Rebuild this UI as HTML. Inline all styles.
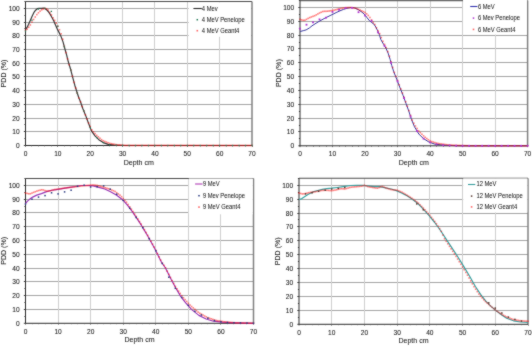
<!DOCTYPE html>
<html><head><meta charset="utf-8"><style>
html,body{margin:0;padding:0;background:#fff;}
body{width:532px;height:346px;overflow:hidden;}
svg{display:block;font-family:"Liberation Sans", sans-serif;}
</style></head><body>
<svg width="532" height="346" viewBox="0 0 532 346">
<defs><filter id="bl" x="0" y="0" width="532" height="346" filterUnits="userSpaceOnUse" color-interpolation-filters="sRGB"><feConvolveMatrix order="3" kernelMatrix="1 2 1 2 20 2 1 2 1" divisor="32" edgeMode="duplicate"/></filter></defs>
<g filter="url(#bl)">
<rect width="532" height="346" fill="#fff"/>
<g stroke="#a4a4a4" stroke-width="1"><line x1="25.50" y1="131.50" x2="252.00" y2="131.50"/><line x1="25.50" y1="118.50" x2="252.00" y2="118.50"/><line x1="25.50" y1="104.50" x2="252.00" y2="104.50"/><line x1="25.50" y1="90.50" x2="252.00" y2="90.50"/><line x1="25.50" y1="76.50" x2="252.00" y2="76.50"/><line x1="25.50" y1="63.50" x2="252.00" y2="63.50"/><line x1="25.50" y1="49.50" x2="252.00" y2="49.50"/><line x1="25.50" y1="35.50" x2="252.00" y2="35.50"/><line x1="25.50" y1="22.50" x2="252.00" y2="22.50"/><line x1="25.50" y1="8.50" x2="252.00" y2="8.50"/></g>
<g stroke="#cfcfcf" stroke-width="1"><line x1="57.50" y1="1.44" x2="57.50" y2="145.50"/><line x1="90.50" y1="1.44" x2="90.50" y2="145.50"/><line x1="122.50" y1="1.44" x2="122.50" y2="145.50"/><line x1="154.50" y1="1.44" x2="154.50" y2="145.50"/><line x1="187.50" y1="1.44" x2="187.50" y2="145.50"/><line x1="219.50" y1="1.44" x2="219.50" y2="145.50"/></g>
<line x1="25.50" y1="1.44" x2="252.00" y2="1.44" stroke="#4a4a4a" stroke-width="1.1"/>
<line x1="252.00" y1="1.44" x2="252.00" y2="145.50" stroke="#808080" stroke-width="1.5"/>
<line x1="25.50" y1="1.44" x2="25.50" y2="146.00" stroke="#2a2a2a" stroke-width="1.0"/>
<line x1="25.00" y1="145.50" x2="252.00" y2="145.50" stroke="#2a2a2a" stroke-width="1.0"/>
<g stroke="#333" stroke-width="0.9"><line x1="23.80" y1="145.50" x2="25.50" y2="145.50"/><line x1="24.40" y1="138.50" x2="25.50" y2="138.50"/><line x1="23.80" y1="131.50" x2="25.50" y2="131.50"/><line x1="24.40" y1="124.50" x2="25.50" y2="124.50"/><line x1="23.80" y1="118.50" x2="25.50" y2="118.50"/><line x1="24.40" y1="111.50" x2="25.50" y2="111.50"/><line x1="23.80" y1="104.50" x2="25.50" y2="104.50"/><line x1="24.40" y1="97.50" x2="25.50" y2="97.50"/><line x1="23.80" y1="90.50" x2="25.50" y2="90.50"/><line x1="24.40" y1="83.50" x2="25.50" y2="83.50"/><line x1="23.80" y1="76.50" x2="25.50" y2="76.50"/><line x1="24.40" y1="70.50" x2="25.50" y2="70.50"/><line x1="23.80" y1="63.50" x2="25.50" y2="63.50"/><line x1="24.40" y1="56.50" x2="25.50" y2="56.50"/><line x1="23.80" y1="49.50" x2="25.50" y2="49.50"/><line x1="24.40" y1="42.50" x2="25.50" y2="42.50"/><line x1="23.80" y1="35.50" x2="25.50" y2="35.50"/><line x1="24.40" y1="28.50" x2="25.50" y2="28.50"/><line x1="23.80" y1="22.50" x2="25.50" y2="22.50"/><line x1="24.40" y1="15.50" x2="25.50" y2="15.50"/><line x1="23.80" y1="8.50" x2="25.50" y2="8.50"/><line x1="24.40" y1="1.50" x2="25.50" y2="1.50"/></g>
<g stroke="#555" stroke-width="0.8"><line x1="25.50" y1="145.50" x2="25.50" y2="146.86"/><line x1="31.50" y1="145.50" x2="31.50" y2="146.38"/><line x1="38.50" y1="145.50" x2="38.50" y2="146.38"/><line x1="44.50" y1="145.50" x2="44.50" y2="146.38"/><line x1="51.50" y1="145.50" x2="51.50" y2="146.38"/><line x1="57.50" y1="145.50" x2="57.50" y2="146.86"/><line x1="64.50" y1="145.50" x2="64.50" y2="146.38"/><line x1="70.50" y1="145.50" x2="70.50" y2="146.38"/><line x1="77.50" y1="145.50" x2="77.50" y2="146.38"/><line x1="83.50" y1="145.50" x2="83.50" y2="146.38"/><line x1="90.50" y1="145.50" x2="90.50" y2="146.86"/><line x1="96.50" y1="145.50" x2="96.50" y2="146.38"/><line x1="103.50" y1="145.50" x2="103.50" y2="146.38"/><line x1="109.50" y1="145.50" x2="109.50" y2="146.38"/><line x1="116.50" y1="145.50" x2="116.50" y2="146.38"/><line x1="122.50" y1="145.50" x2="122.50" y2="146.86"/><line x1="129.50" y1="145.50" x2="129.50" y2="146.38"/><line x1="135.50" y1="145.50" x2="135.50" y2="146.38"/><line x1="141.50" y1="145.50" x2="141.50" y2="146.38"/><line x1="148.50" y1="145.50" x2="148.50" y2="146.38"/><line x1="154.50" y1="145.50" x2="154.50" y2="146.86"/><line x1="161.50" y1="145.50" x2="161.50" y2="146.38"/><line x1="167.50" y1="145.50" x2="167.50" y2="146.38"/><line x1="174.50" y1="145.50" x2="174.50" y2="146.38"/><line x1="180.50" y1="145.50" x2="180.50" y2="146.38"/><line x1="187.50" y1="145.50" x2="187.50" y2="146.86"/><line x1="193.50" y1="145.50" x2="193.50" y2="146.38"/><line x1="200.50" y1="145.50" x2="200.50" y2="146.38"/><line x1="206.50" y1="145.50" x2="206.50" y2="146.38"/><line x1="213.50" y1="145.50" x2="213.50" y2="146.38"/><line x1="219.50" y1="145.50" x2="219.50" y2="146.86"/><line x1="226.50" y1="145.50" x2="226.50" y2="146.38"/><line x1="232.50" y1="145.50" x2="232.50" y2="146.38"/><line x1="239.50" y1="145.50" x2="239.50" y2="146.38"/><line x1="245.50" y1="145.50" x2="245.50" y2="146.38"/><line x1="252.50" y1="145.50" x2="252.50" y2="146.86"/></g>
<polyline points="25.40,29.50 26.90,27.70 28.60,24.30 30.40,20.20 32.10,16.20 33.80,12.70 35.60,10.20 37.30,8.70 39.00,8.30 41.30,8.30 43.50,8.20 45.20,8.70 46.90,10.00 48.70,12.10 50.40,14.70 52.10,17.80 53.90,21.20 55.60,25.20 57.30,29.10 59.30,32.90 61.00,36.40 63.10,42.10 64.80,48.50 66.60,54.90 68.30,61.80 70.60,69.30 73.10,78.90 74.80,85.20 76.60,91.00 78.90,98.00 80.10,100.70 82.90,108.70 85.80,115.90 88.70,123.80 91.60,131.10 95.20,136.10 98.80,139.70 103.20,142.60 108.20,144.40 114.00,145.10 125.00,145.50 252.00,145.50" fill="none" stroke="#3a3a3a" stroke-width="1.2" stroke-linejoin="round"/>
<g fill="#ff0000" fill-opacity="0.5"><rect x="24.70" y="29.43" width="1.6" height="1.6"/><rect x="26.32" y="28.35" width="1.6" height="1.6"/><rect x="27.94" y="26.40" width="1.6" height="1.6"/><rect x="29.55" y="24.16" width="1.6" height="1.6"/><rect x="31.17" y="21.30" width="1.6" height="1.6"/><rect x="32.79" y="18.65" width="1.6" height="1.6"/><rect x="34.41" y="16.19" width="1.6" height="1.6"/><rect x="36.03" y="13.80" width="1.6" height="1.6"/><rect x="37.64" y="11.96" width="1.6" height="1.6"/><rect x="39.26" y="10.34" width="1.6" height="1.6"/><rect x="40.88" y="9.02" width="1.6" height="1.6"/><rect x="42.50" y="8.20" width="1.6" height="1.6"/><rect x="44.11" y="7.60" width="1.6" height="1.6"/><rect x="45.73" y="7.98" width="1.6" height="1.6"/><rect x="47.35" y="9.28" width="1.6" height="1.6"/><rect x="48.97" y="11.63" width="1.6" height="1.6"/><rect x="50.59" y="14.11" width="1.6" height="1.6"/><rect x="52.20" y="17.01" width="1.6" height="1.6"/><rect x="53.82" y="19.56" width="1.6" height="1.6"/><rect x="55.44" y="22.30" width="1.6" height="1.6"/><rect x="57.06" y="25.47" width="1.6" height="1.6"/><rect x="58.68" y="28.94" width="1.6" height="1.6"/><rect x="60.29" y="33.00" width="1.6" height="1.6"/><rect x="61.91" y="38.46" width="1.6" height="1.6"/><rect x="63.53" y="45.61" width="1.6" height="1.6"/><rect x="65.15" y="51.78" width="1.6" height="1.6"/><rect x="66.76" y="58.01" width="1.6" height="1.6"/><rect x="68.38" y="63.88" width="1.6" height="1.6"/><rect x="70.00" y="69.27" width="1.6" height="1.6"/><rect x="71.62" y="75.48" width="1.6" height="1.6"/><rect x="73.24" y="81.57" width="1.6" height="1.6"/><rect x="74.85" y="87.15" width="1.6" height="1.6"/><rect x="76.47" y="92.24" width="1.6" height="1.6"/><rect x="78.09" y="97.17" width="1.6" height="1.6"/><rect x="79.71" y="101.06" width="1.6" height="1.6"/><rect x="81.33" y="105.69" width="1.6" height="1.6"/><rect x="82.94" y="109.99" width="1.6" height="1.6"/><rect x="84.56" y="114.01" width="1.6" height="1.6"/><rect x="86.18" y="118.11" width="1.6" height="1.6"/><rect x="87.80" y="122.24" width="1.6" height="1.6"/><rect x="89.41" y="125.71" width="1.6" height="1.6"/><rect x="91.03" y="129.14" width="1.6" height="1.6"/><rect x="92.65" y="131.07" width="1.6" height="1.6"/><rect x="94.27" y="132.83" width="1.6" height="1.6"/><rect x="95.89" y="134.58" width="1.6" height="1.6"/><rect x="97.50" y="136.01" width="1.6" height="1.6"/><rect x="99.12" y="137.43" width="1.6" height="1.6"/><rect x="100.74" y="138.86" width="1.6" height="1.6"/><rect x="102.36" y="139.96" width="1.6" height="1.6"/><rect x="103.98" y="140.62" width="1.6" height="1.6"/><rect x="105.59" y="141.27" width="1.6" height="1.6"/><rect x="107.21" y="141.92" width="1.6" height="1.6"/><rect x="108.83" y="142.57" width="1.6" height="1.6"/><rect x="110.45" y="142.90" width="1.6" height="1.6"/><rect x="112.06" y="143.22" width="1.6" height="1.6"/><rect x="113.68" y="143.53" width="1.6" height="1.6"/><rect x="115.30" y="143.84" width="1.6" height="1.6"/><rect x="116.92" y="144.06" width="1.6" height="1.6"/><rect x="118.54" y="144.18" width="1.6" height="1.6"/><rect x="120.15" y="144.30" width="1.6" height="1.6"/><rect x="121.77" y="144.42" width="1.6" height="1.6"/><rect x="123.39" y="144.54" width="1.6" height="1.6"/><rect x="125.01" y="144.60" width="1.6" height="1.6"/><rect x="126.62" y="144.60" width="1.6" height="1.6"/><rect x="128.24" y="144.60" width="1.6" height="1.6"/><rect x="129.86" y="144.60" width="1.6" height="1.6"/><rect x="131.48" y="144.61" width="1.6" height="1.6"/><rect x="133.10" y="144.61" width="1.6" height="1.6"/><rect x="134.71" y="144.61" width="1.6" height="1.6"/><rect x="136.33" y="144.61" width="1.6" height="1.6"/><rect x="137.95" y="144.61" width="1.6" height="1.6"/><rect x="139.57" y="144.61" width="1.6" height="1.6"/><rect x="141.19" y="144.61" width="1.6" height="1.6"/><rect x="142.80" y="144.61" width="1.6" height="1.6"/><rect x="144.42" y="144.62" width="1.6" height="1.6"/><rect x="146.04" y="144.62" width="1.6" height="1.6"/><rect x="147.66" y="144.62" width="1.6" height="1.6"/><rect x="149.27" y="144.62" width="1.6" height="1.6"/><rect x="150.89" y="144.62" width="1.6" height="1.6"/><rect x="152.51" y="144.62" width="1.6" height="1.6"/><rect x="154.13" y="144.62" width="1.6" height="1.6"/><rect x="155.75" y="144.62" width="1.6" height="1.6"/><rect x="157.36" y="144.63" width="1.6" height="1.6"/><rect x="158.98" y="144.63" width="1.6" height="1.6"/><rect x="160.60" y="144.63" width="1.6" height="1.6"/><rect x="162.22" y="144.63" width="1.6" height="1.6"/><rect x="163.84" y="144.63" width="1.6" height="1.6"/><rect x="165.45" y="144.63" width="1.6" height="1.6"/><rect x="167.07" y="144.63" width="1.6" height="1.6"/><rect x="168.69" y="144.64" width="1.6" height="1.6"/><rect x="170.31" y="144.64" width="1.6" height="1.6"/><rect x="171.92" y="144.64" width="1.6" height="1.6"/><rect x="173.54" y="144.64" width="1.6" height="1.6"/><rect x="175.16" y="144.64" width="1.6" height="1.6"/><rect x="176.78" y="144.64" width="1.6" height="1.6"/><rect x="178.40" y="144.64" width="1.6" height="1.6"/><rect x="180.01" y="144.64" width="1.6" height="1.6"/><rect x="181.63" y="144.65" width="1.6" height="1.6"/><rect x="183.25" y="144.65" width="1.6" height="1.6"/><rect x="184.87" y="144.65" width="1.6" height="1.6"/><rect x="186.49" y="144.65" width="1.6" height="1.6"/><rect x="188.10" y="144.65" width="1.6" height="1.6"/><rect x="189.72" y="144.65" width="1.6" height="1.6"/><rect x="191.34" y="144.65" width="1.6" height="1.6"/><rect x="192.96" y="144.65" width="1.6" height="1.6"/><rect x="194.57" y="144.66" width="1.6" height="1.6"/><rect x="196.19" y="144.66" width="1.6" height="1.6"/><rect x="197.81" y="144.66" width="1.6" height="1.6"/><rect x="199.43" y="144.66" width="1.6" height="1.6"/><rect x="201.05" y="144.66" width="1.6" height="1.6"/><rect x="202.66" y="144.66" width="1.6" height="1.6"/><rect x="204.28" y="144.66" width="1.6" height="1.6"/><rect x="205.90" y="144.66" width="1.6" height="1.6"/><rect x="207.52" y="144.67" width="1.6" height="1.6"/><rect x="209.14" y="144.67" width="1.6" height="1.6"/><rect x="210.75" y="144.67" width="1.6" height="1.6"/><rect x="212.37" y="144.67" width="1.6" height="1.6"/><rect x="213.99" y="144.67" width="1.6" height="1.6"/><rect x="215.61" y="144.67" width="1.6" height="1.6"/><rect x="217.22" y="144.67" width="1.6" height="1.6"/><rect x="218.84" y="144.67" width="1.6" height="1.6"/><rect x="220.46" y="144.68" width="1.6" height="1.6"/><rect x="222.08" y="144.68" width="1.6" height="1.6"/><rect x="223.70" y="144.68" width="1.6" height="1.6"/><rect x="225.31" y="144.68" width="1.6" height="1.6"/><rect x="226.93" y="144.68" width="1.6" height="1.6"/><rect x="228.55" y="144.68" width="1.6" height="1.6"/><rect x="230.17" y="144.68" width="1.6" height="1.6"/><rect x="231.79" y="144.68" width="1.6" height="1.6"/><rect x="233.40" y="144.69" width="1.6" height="1.6"/><rect x="235.02" y="144.69" width="1.6" height="1.6"/><rect x="236.64" y="144.69" width="1.6" height="1.6"/><rect x="238.26" y="144.69" width="1.6" height="1.6"/><rect x="239.88" y="144.69" width="1.6" height="1.6"/><rect x="241.49" y="144.69" width="1.6" height="1.6"/><rect x="243.11" y="144.69" width="1.6" height="1.6"/><rect x="244.73" y="144.69" width="1.6" height="1.6"/><rect x="246.35" y="144.70" width="1.6" height="1.6"/><rect x="247.96" y="144.70" width="1.6" height="1.6"/><rect x="249.58" y="144.70" width="1.6" height="1.6"/><rect x="251.20" y="144.70" width="1.6" height="1.6"/></g>
<g fill="#1f7a55"><rect x="24.85" y="30.35" width="1.3" height="1.3"/><rect x="31.32" y="19.55" width="1.3" height="1.3"/><rect x="37.79" y="8.35" width="1.3" height="1.3"/><rect x="44.26" y="7.65" width="1.3" height="1.3"/><rect x="50.74" y="10.75" width="1.3" height="1.3"/><rect x="57.21" y="25.55" width="1.3" height="1.3"/><rect x="63.68" y="46.08" width="1.3" height="1.3"/><rect x="70.15" y="69.42" width="1.3" height="1.3"/><rect x="76.62" y="92.39" width="1.3" height="1.3"/><rect x="83.09" y="110.14" width="1.3" height="1.3"/><rect x="89.56" y="126.96" width="1.3" height="1.3"/><rect x="96.04" y="136.94" width="1.3" height="1.3"/><rect x="102.51" y="141.92" width="1.3" height="1.3"/><rect x="108.98" y="143.92" width="1.3" height="1.3"/><rect x="115.45" y="144.53" width="1.3" height="1.3"/><rect x="121.92" y="144.76" width="1.3" height="1.3"/><rect x="128.39" y="144.85" width="1.3" height="1.3"/><rect x="134.86" y="144.85" width="1.3" height="1.3"/><rect x="141.34" y="144.85" width="1.3" height="1.3"/><rect x="147.81" y="144.85" width="1.3" height="1.3"/><rect x="154.28" y="144.85" width="1.3" height="1.3"/><rect x="160.75" y="144.85" width="1.3" height="1.3"/><rect x="167.22" y="144.85" width="1.3" height="1.3"/><rect x="173.69" y="144.85" width="1.3" height="1.3"/><rect x="180.16" y="144.85" width="1.3" height="1.3"/><rect x="186.64" y="144.85" width="1.3" height="1.3"/><rect x="193.11" y="144.85" width="1.3" height="1.3"/><rect x="199.58" y="144.85" width="1.3" height="1.3"/><rect x="206.05" y="144.85" width="1.3" height="1.3"/><rect x="212.52" y="144.85" width="1.3" height="1.3"/><rect x="218.99" y="144.85" width="1.3" height="1.3"/><rect x="225.46" y="144.85" width="1.3" height="1.3"/><rect x="231.94" y="144.85" width="1.3" height="1.3"/><rect x="238.41" y="144.85" width="1.3" height="1.3"/><rect x="244.88" y="144.85" width="1.3" height="1.3"/><rect x="251.35" y="144.85" width="1.3" height="1.3"/></g>
<g font-size="7.1" fill="#222" stroke="#222" stroke-width="0.08"><text transform="translate(19.70,148.00) scale(0.93,1)" text-anchor="end">0</text><text transform="translate(19.70,134.28) scale(0.93,1)" text-anchor="end">10</text><text transform="translate(19.70,120.56) scale(0.93,1)" text-anchor="end">20</text><text transform="translate(19.70,106.84) scale(0.93,1)" text-anchor="end">30</text><text transform="translate(19.70,93.12) scale(0.93,1)" text-anchor="end">40</text><text transform="translate(19.70,79.40) scale(0.93,1)" text-anchor="end">50</text><text transform="translate(19.70,65.68) scale(0.93,1)" text-anchor="end">60</text><text transform="translate(19.70,51.96) scale(0.93,1)" text-anchor="end">70</text><text transform="translate(19.70,38.24) scale(0.93,1)" text-anchor="end">80</text><text transform="translate(19.70,24.52) scale(0.93,1)" text-anchor="end">90</text><text transform="translate(19.70,10.80) scale(0.93,1)" text-anchor="end">100</text><text transform="translate(25.50,155.80) scale(0.93,1)" text-anchor="middle">0</text><text transform="translate(57.86,155.80) scale(0.93,1)" text-anchor="middle">10</text><text transform="translate(90.21,155.80) scale(0.93,1)" text-anchor="middle">20</text><text transform="translate(122.57,155.80) scale(0.93,1)" text-anchor="middle">30</text><text transform="translate(154.93,155.80) scale(0.93,1)" text-anchor="middle">40</text><text transform="translate(187.29,155.80) scale(0.93,1)" text-anchor="middle">50</text><text transform="translate(219.64,155.80) scale(0.93,1)" text-anchor="middle">60</text><text transform="translate(252.00,155.80) scale(0.93,1)" text-anchor="middle">70</text></g>
<text transform="translate(138.75,164.50) scale(0.93,1)" text-anchor="middle" font-size="7.6" fill="#222" stroke="#222" stroke-width="0.08">Depth cm</text>
<text transform="translate(6.20,73.47) rotate(-90) scale(0.93,1)" text-anchor="middle" font-size="7.6" fill="#222" stroke="#222" stroke-width="0.08">PDD (%)</text>
<rect x="188.6" y="2.4" width="62.40" height="34.40" fill="#fff"/>
<line x1="193.4" y1="8.5" x2="201.8" y2="8.5" stroke="#2a2a2a" stroke-width="1.1"/>
<rect x="196.55" y="18.95" width="1.5" height="1.5" fill="#1f7a55"/>
<rect x="196.50" y="29.90" width="1.6" height="1.6" fill="#ff0000" fill-opacity="0.6"/>
<g font-size="6.7" fill="#1a1a1a" stroke="#1a1a1a" stroke-width="0.05"><text transform="translate(201.8,10.70) scale(0.87,1)">4 Mev</text><text transform="translate(201.8,22.00) scale(0.87,1)">4 MeV Penelope</text><text transform="translate(201.8,33.00) scale(0.87,1)">4 MeV Geant4</text></g>
<g stroke="#a4a4a4" stroke-width="1"><line x1="300.00" y1="131.50" x2="527.60" y2="131.50"/><line x1="300.00" y1="118.50" x2="527.60" y2="118.50"/><line x1="300.00" y1="104.50" x2="527.60" y2="104.50"/><line x1="300.00" y1="90.50" x2="527.60" y2="90.50"/><line x1="300.00" y1="76.50" x2="527.60" y2="76.50"/><line x1="300.00" y1="62.50" x2="527.60" y2="62.50"/><line x1="300.00" y1="48.50" x2="527.60" y2="48.50"/><line x1="300.00" y1="35.50" x2="527.60" y2="35.50"/><line x1="300.00" y1="21.50" x2="527.60" y2="21.50"/><line x1="300.00" y1="7.50" x2="527.60" y2="7.50"/></g>
<g stroke="#cfcfcf" stroke-width="1"><line x1="332.50" y1="0.58" x2="332.50" y2="145.80"/><line x1="365.50" y1="0.58" x2="365.50" y2="145.80"/><line x1="397.50" y1="0.58" x2="397.50" y2="145.80"/><line x1="430.50" y1="0.58" x2="430.50" y2="145.80"/><line x1="462.50" y1="0.58" x2="462.50" y2="145.80"/><line x1="495.50" y1="0.58" x2="495.50" y2="145.80"/></g>
<line x1="300.00" y1="0.58" x2="527.60" y2="0.58" stroke="#6a6a6a" stroke-width="1.1"/>
<line x1="527.60" y1="0.58" x2="527.60" y2="145.80" stroke="#808080" stroke-width="1.5"/>
<line x1="300.00" y1="0.58" x2="300.00" y2="146.30" stroke="#2a2a2a" stroke-width="1.0"/>
<line x1="299.50" y1="145.80" x2="527.60" y2="145.80" stroke="#2a2a2a" stroke-width="1.0"/>
<g stroke="#333" stroke-width="0.9"><line x1="298.30" y1="145.80" x2="300.00" y2="145.80"/><line x1="298.90" y1="138.50" x2="300.00" y2="138.50"/><line x1="298.30" y1="131.50" x2="300.00" y2="131.50"/><line x1="298.90" y1="125.50" x2="300.00" y2="125.50"/><line x1="298.30" y1="118.50" x2="300.00" y2="118.50"/><line x1="298.90" y1="111.50" x2="300.00" y2="111.50"/><line x1="298.30" y1="104.50" x2="300.00" y2="104.50"/><line x1="298.90" y1="97.50" x2="300.00" y2="97.50"/><line x1="298.30" y1="90.50" x2="300.00" y2="90.50"/><line x1="298.90" y1="83.50" x2="300.00" y2="83.50"/><line x1="298.30" y1="76.50" x2="300.00" y2="76.50"/><line x1="298.90" y1="69.50" x2="300.00" y2="69.50"/><line x1="298.30" y1="62.50" x2="300.00" y2="62.50"/><line x1="298.90" y1="55.50" x2="300.00" y2="55.50"/><line x1="298.30" y1="48.50" x2="300.00" y2="48.50"/><line x1="298.90" y1="42.50" x2="300.00" y2="42.50"/><line x1="298.30" y1="35.50" x2="300.00" y2="35.50"/><line x1="298.90" y1="28.50" x2="300.00" y2="28.50"/><line x1="298.30" y1="21.50" x2="300.00" y2="21.50"/><line x1="298.90" y1="14.50" x2="300.00" y2="14.50"/><line x1="298.30" y1="7.50" x2="300.00" y2="7.50"/><line x1="298.90" y1="0.50" x2="300.00" y2="0.50"/></g>
<g stroke="#555" stroke-width="0.8"><line x1="300.00" y1="145.80" x2="300.00" y2="147.16"/><line x1="306.50" y1="145.80" x2="306.50" y2="146.68"/><line x1="313.50" y1="145.80" x2="313.50" y2="146.68"/><line x1="319.50" y1="145.80" x2="319.50" y2="146.68"/><line x1="326.50" y1="145.80" x2="326.50" y2="146.68"/><line x1="332.50" y1="145.80" x2="332.50" y2="147.16"/><line x1="339.50" y1="145.80" x2="339.50" y2="146.68"/><line x1="345.50" y1="145.80" x2="345.50" y2="146.68"/><line x1="352.50" y1="145.80" x2="352.50" y2="146.68"/><line x1="358.50" y1="145.80" x2="358.50" y2="146.68"/><line x1="365.50" y1="145.80" x2="365.50" y2="147.16"/><line x1="371.50" y1="145.80" x2="371.50" y2="146.68"/><line x1="378.50" y1="145.80" x2="378.50" y2="146.68"/><line x1="384.50" y1="145.80" x2="384.50" y2="146.68"/><line x1="391.50" y1="145.80" x2="391.50" y2="146.68"/><line x1="397.50" y1="145.80" x2="397.50" y2="147.16"/><line x1="404.50" y1="145.80" x2="404.50" y2="146.68"/><line x1="410.50" y1="145.80" x2="410.50" y2="146.68"/><line x1="417.50" y1="145.80" x2="417.50" y2="146.68"/><line x1="423.50" y1="145.80" x2="423.50" y2="146.68"/><line x1="430.50" y1="145.80" x2="430.50" y2="147.16"/><line x1="436.50" y1="145.80" x2="436.50" y2="146.68"/><line x1="443.50" y1="145.80" x2="443.50" y2="146.68"/><line x1="449.50" y1="145.80" x2="449.50" y2="146.68"/><line x1="456.50" y1="145.80" x2="456.50" y2="146.68"/><line x1="462.50" y1="145.80" x2="462.50" y2="147.16"/><line x1="469.50" y1="145.80" x2="469.50" y2="146.68"/><line x1="475.50" y1="145.80" x2="475.50" y2="146.68"/><line x1="482.50" y1="145.80" x2="482.50" y2="146.68"/><line x1="488.50" y1="145.80" x2="488.50" y2="146.68"/><line x1="495.50" y1="145.80" x2="495.50" y2="147.16"/><line x1="501.50" y1="145.80" x2="501.50" y2="146.68"/><line x1="508.50" y1="145.80" x2="508.50" y2="146.68"/><line x1="514.50" y1="145.80" x2="514.50" y2="146.68"/><line x1="521.50" y1="145.80" x2="521.50" y2="146.68"/><line x1="527.50" y1="145.80" x2="527.50" y2="147.16"/></g>
<polyline points="300.10,31.50 303.20,30.70 306.10,29.90 309.60,27.80 312.00,25.80 315.00,23.90 318.00,22.00 321.00,20.30 324.10,18.60 327.00,17.10 330.10,15.60 333.00,14.20 336.10,12.60 340.00,10.80 343.50,9.40 346.90,8.30 351.60,7.50 355.00,8.10 358.50,9.80 362.00,12.20 364.90,14.80 367.20,17.90 369.50,20.80 371.80,22.60 374.10,24.30 375.90,27.20 377.60,30.70 379.40,34.70 380.80,39.50 383.70,44.50 385.90,48.10 388.10,53.10 390.20,59.60 391.70,65.40 393.80,71.90 396.70,79.10 400.10,88.00 403.00,95.20 405.90,103.20 408.80,111.10 411.50,119.50 414.50,126.80 418.80,134.00 423.20,138.40 428.90,142.00 434.70,144.10 443.40,145.20 460.00,145.80 527.60,145.80" fill="none" stroke="#3a3aa0" stroke-width="1.0" stroke-linejoin="round"/>
<g fill="#ff0000" fill-opacity="0.5"><rect x="299.20" y="18.50" width="1.6" height="1.6"/><rect x="300.83" y="19.11" width="1.6" height="1.6"/><rect x="302.45" y="19.47" width="1.6" height="1.6"/><rect x="304.08" y="19.41" width="1.6" height="1.6"/><rect x="305.70" y="18.54" width="1.6" height="1.6"/><rect x="307.33" y="17.60" width="1.6" height="1.6"/><rect x="308.95" y="16.80" width="1.6" height="1.6"/><rect x="310.58" y="16.15" width="1.6" height="1.6"/><rect x="312.21" y="15.53" width="1.6" height="1.6"/><rect x="313.83" y="14.94" width="1.6" height="1.6"/><rect x="315.46" y="14.07" width="1.6" height="1.6"/><rect x="317.08" y="13.13" width="1.6" height="1.6"/><rect x="318.71" y="12.20" width="1.6" height="1.6"/><rect x="320.33" y="11.47" width="1.6" height="1.6"/><rect x="321.96" y="10.74" width="1.6" height="1.6"/><rect x="323.59" y="10.50" width="1.6" height="1.6"/><rect x="325.21" y="10.50" width="1.6" height="1.6"/><rect x="326.84" y="10.39" width="1.6" height="1.6"/><rect x="328.46" y="10.16" width="1.6" height="1.6"/><rect x="330.09" y="9.92" width="1.6" height="1.6"/><rect x="331.71" y="9.63" width="1.6" height="1.6"/><rect x="333.34" y="9.35" width="1.6" height="1.6"/><rect x="334.97" y="8.97" width="1.6" height="1.6"/><rect x="336.59" y="8.49" width="1.6" height="1.6"/><rect x="338.22" y="8.00" width="1.6" height="1.6"/><rect x="339.84" y="7.65" width="1.6" height="1.6"/><rect x="341.47" y="7.38" width="1.6" height="1.6"/><rect x="343.09" y="7.11" width="1.6" height="1.6"/><rect x="344.72" y="6.85" width="1.6" height="1.6"/><rect x="346.35" y="6.78" width="1.6" height="1.6"/><rect x="347.97" y="6.75" width="1.6" height="1.6"/><rect x="349.60" y="6.72" width="1.6" height="1.6"/><rect x="351.22" y="6.77" width="1.6" height="1.6"/><rect x="352.85" y="7.06" width="1.6" height="1.6"/><rect x="354.47" y="7.34" width="1.6" height="1.6"/><rect x="356.10" y="7.82" width="1.6" height="1.6"/><rect x="357.73" y="8.56" width="1.6" height="1.6"/><rect x="359.35" y="9.30" width="1.6" height="1.6"/><rect x="360.98" y="10.08" width="1.6" height="1.6"/><rect x="362.60" y="10.87" width="1.6" height="1.6"/><rect x="364.23" y="11.67" width="1.6" height="1.6"/><rect x="365.85" y="13.05" width="1.6" height="1.6"/><rect x="367.48" y="14.68" width="1.6" height="1.6"/><rect x="369.11" y="16.70" width="1.6" height="1.6"/><rect x="370.73" y="19.12" width="1.6" height="1.6"/><rect x="372.36" y="21.55" width="1.6" height="1.6"/><rect x="373.98" y="23.67" width="1.6" height="1.6"/><rect x="375.61" y="26.92" width="1.6" height="1.6"/><rect x="377.23" y="29.95" width="1.6" height="1.6"/><rect x="378.86" y="32.87" width="1.6" height="1.6"/><rect x="380.49" y="36.76" width="1.6" height="1.6"/><rect x="382.11" y="40.47" width="1.6" height="1.6"/><rect x="383.74" y="43.59" width="1.6" height="1.6"/><rect x="385.36" y="46.84" width="1.6" height="1.6"/><rect x="386.99" y="50.81" width="1.6" height="1.6"/><rect x="388.61" y="55.44" width="1.6" height="1.6"/><rect x="390.24" y="60.89" width="1.6" height="1.6"/><rect x="391.87" y="66.66" width="1.6" height="1.6"/><rect x="393.49" y="71.58" width="1.6" height="1.6"/><rect x="395.12" y="75.61" width="1.6" height="1.6"/><rect x="396.74" y="79.72" width="1.6" height="1.6"/><rect x="398.37" y="83.98" width="1.6" height="1.6"/><rect x="399.99" y="88.18" width="1.6" height="1.6"/><rect x="401.62" y="92.22" width="1.6" height="1.6"/><rect x="403.25" y="96.46" width="1.6" height="1.6"/><rect x="404.87" y="100.94" width="1.6" height="1.6"/><rect x="406.50" y="105.39" width="1.6" height="1.6"/><rect x="408.12" y="109.82" width="1.6" height="1.6"/><rect x="409.75" y="114.65" width="1.6" height="1.6"/><rect x="411.37" y="119.24" width="1.6" height="1.6"/><rect x="413.00" y="122.43" width="1.6" height="1.6"/><rect x="414.63" y="125.20" width="1.6" height="1.6"/><rect x="416.25" y="127.66" width="1.6" height="1.6"/><rect x="417.88" y="130.11" width="1.6" height="1.6"/><rect x="419.50" y="131.80" width="1.6" height="1.6"/><rect x="421.13" y="133.43" width="1.6" height="1.6"/><rect x="422.75" y="135.05" width="1.6" height="1.6"/><rect x="424.38" y="136.53" width="1.6" height="1.6"/><rect x="426.01" y="137.74" width="1.6" height="1.6"/><rect x="427.63" y="138.94" width="1.6" height="1.6"/><rect x="429.26" y="140.15" width="1.6" height="1.6"/><rect x="430.88" y="140.79" width="1.6" height="1.6"/><rect x="432.51" y="141.29" width="1.6" height="1.6"/><rect x="434.13" y="141.79" width="1.6" height="1.6"/><rect x="435.76" y="142.28" width="1.6" height="1.6"/><rect x="437.39" y="142.69" width="1.6" height="1.6"/><rect x="439.01" y="142.93" width="1.6" height="1.6"/><rect x="440.64" y="143.16" width="1.6" height="1.6"/><rect x="442.26" y="143.40" width="1.6" height="1.6"/><rect x="443.89" y="143.64" width="1.6" height="1.6"/><rect x="445.51" y="143.88" width="1.6" height="1.6"/><rect x="447.14" y="144.11" width="1.6" height="1.6"/><rect x="448.77" y="144.21" width="1.6" height="1.6"/><rect x="450.39" y="144.31" width="1.6" height="1.6"/><rect x="452.02" y="144.41" width="1.6" height="1.6"/><rect x="453.64" y="144.51" width="1.6" height="1.6"/><rect x="455.27" y="144.60" width="1.6" height="1.6"/><rect x="456.89" y="144.65" width="1.6" height="1.6"/><rect x="458.52" y="144.69" width="1.6" height="1.6"/><rect x="460.15" y="144.74" width="1.6" height="1.6"/><rect x="461.77" y="144.79" width="1.6" height="1.6"/><rect x="463.40" y="144.83" width="1.6" height="1.6"/><rect x="465.02" y="144.88" width="1.6" height="1.6"/><rect x="466.65" y="144.93" width="1.6" height="1.6"/><rect x="468.27" y="144.97" width="1.6" height="1.6"/><rect x="469.90" y="145.00" width="1.6" height="1.6"/><rect x="471.53" y="145.00" width="1.6" height="1.6"/><rect x="473.15" y="145.00" width="1.6" height="1.6"/><rect x="474.78" y="145.00" width="1.6" height="1.6"/><rect x="476.40" y="145.00" width="1.6" height="1.6"/><rect x="478.03" y="145.00" width="1.6" height="1.6"/><rect x="479.65" y="145.00" width="1.6" height="1.6"/><rect x="481.28" y="145.00" width="1.6" height="1.6"/><rect x="482.91" y="145.00" width="1.6" height="1.6"/><rect x="484.53" y="145.00" width="1.6" height="1.6"/><rect x="486.16" y="145.00" width="1.6" height="1.6"/><rect x="487.78" y="145.00" width="1.6" height="1.6"/><rect x="489.41" y="145.00" width="1.6" height="1.6"/><rect x="491.03" y="145.00" width="1.6" height="1.6"/><rect x="492.66" y="145.00" width="1.6" height="1.6"/><rect x="494.29" y="145.00" width="1.6" height="1.6"/><rect x="495.91" y="145.00" width="1.6" height="1.6"/><rect x="497.54" y="145.00" width="1.6" height="1.6"/><rect x="499.16" y="145.00" width="1.6" height="1.6"/><rect x="500.79" y="145.00" width="1.6" height="1.6"/><rect x="502.41" y="145.00" width="1.6" height="1.6"/><rect x="504.04" y="145.00" width="1.6" height="1.6"/><rect x="505.67" y="145.00" width="1.6" height="1.6"/><rect x="507.29" y="145.00" width="1.6" height="1.6"/><rect x="508.92" y="145.00" width="1.6" height="1.6"/><rect x="510.54" y="145.00" width="1.6" height="1.6"/><rect x="512.17" y="145.00" width="1.6" height="1.6"/><rect x="513.79" y="145.00" width="1.6" height="1.6"/><rect x="515.42" y="145.00" width="1.6" height="1.6"/><rect x="517.05" y="145.00" width="1.6" height="1.6"/><rect x="518.67" y="145.00" width="1.6" height="1.6"/><rect x="520.30" y="145.00" width="1.6" height="1.6"/><rect x="521.92" y="145.00" width="1.6" height="1.6"/><rect x="523.55" y="145.00" width="1.6" height="1.6"/><rect x="525.17" y="145.00" width="1.6" height="1.6"/><rect x="526.80" y="145.00" width="1.6" height="1.6"/></g>
<g fill="#b030d0"><rect x="299.10" y="27.80" width="1.8" height="1.8"/><rect x="305.60" y="23.80" width="1.8" height="1.8"/><rect x="312.11" y="21.40" width="1.8" height="1.8"/><rect x="318.61" y="18.50" width="1.8" height="1.8"/><rect x="325.11" y="16.80" width="1.8" height="1.8"/><rect x="331.61" y="11.00" width="1.8" height="1.8"/><rect x="338.12" y="8.90" width="1.8" height="1.8"/><rect x="344.62" y="7.20" width="1.8" height="1.8"/><rect x="351.12" y="7.00" width="1.8" height="1.8"/><rect x="357.63" y="11.30" width="1.8" height="1.8"/><rect x="364.13" y="14.70" width="1.8" height="1.8"/><rect x="370.63" y="19.90" width="1.8" height="1.8"/><rect x="377.13" y="31.50" width="1.8" height="1.8"/><rect x="383.64" y="44.97" width="1.8" height="1.8"/><rect x="390.14" y="61.95" width="1.8" height="1.8"/><rect x="396.64" y="80.41" width="1.8" height="1.8"/><rect x="403.15" y="97.18" width="1.8" height="1.8"/><rect x="409.65" y="115.64" width="1.8" height="1.8"/><rect x="416.15" y="130.17" width="1.8" height="1.8"/><rect x="422.65" y="137.72" width="1.8" height="1.8"/><rect x="429.16" y="141.52" width="1.8" height="1.8"/><rect x="435.66" y="143.44" width="1.8" height="1.8"/><rect x="442.16" y="144.26" width="1.8" height="1.8"/><rect x="448.67" y="144.52" width="1.8" height="1.8"/><rect x="455.17" y="144.76" width="1.8" height="1.8"/><rect x="461.67" y="144.90" width="1.8" height="1.8"/><rect x="468.17" y="144.90" width="1.8" height="1.8"/><rect x="474.68" y="144.90" width="1.8" height="1.8"/><rect x="481.18" y="144.90" width="1.8" height="1.8"/><rect x="487.68" y="144.90" width="1.8" height="1.8"/><rect x="494.19" y="144.90" width="1.8" height="1.8"/><rect x="500.69" y="144.90" width="1.8" height="1.8"/><rect x="507.19" y="144.90" width="1.8" height="1.8"/><rect x="513.69" y="144.90" width="1.8" height="1.8"/><rect x="520.20" y="144.90" width="1.8" height="1.8"/><rect x="526.70" y="144.90" width="1.8" height="1.8"/></g>
<g font-size="7.1" fill="#222" stroke="#222" stroke-width="0.08"><text transform="translate(294.20,148.30) scale(0.93,1)" text-anchor="end">0</text><text transform="translate(294.20,134.47) scale(0.93,1)" text-anchor="end">10</text><text transform="translate(294.20,120.64) scale(0.93,1)" text-anchor="end">20</text><text transform="translate(294.20,106.81) scale(0.93,1)" text-anchor="end">30</text><text transform="translate(294.20,92.98) scale(0.93,1)" text-anchor="end">40</text><text transform="translate(294.20,79.15) scale(0.93,1)" text-anchor="end">50</text><text transform="translate(294.20,65.32) scale(0.93,1)" text-anchor="end">60</text><text transform="translate(294.20,51.49) scale(0.93,1)" text-anchor="end">70</text><text transform="translate(294.20,37.66) scale(0.93,1)" text-anchor="end">80</text><text transform="translate(294.20,23.83) scale(0.93,1)" text-anchor="end">90</text><text transform="translate(294.20,10.00) scale(0.93,1)" text-anchor="end">100</text><text transform="translate(300.00,156.10) scale(0.93,1)" text-anchor="middle">0</text><text transform="translate(332.51,156.10) scale(0.93,1)" text-anchor="middle">10</text><text transform="translate(365.03,156.10) scale(0.93,1)" text-anchor="middle">20</text><text transform="translate(397.54,156.10) scale(0.93,1)" text-anchor="middle">30</text><text transform="translate(430.06,156.10) scale(0.93,1)" text-anchor="middle">40</text><text transform="translate(462.57,156.10) scale(0.93,1)" text-anchor="middle">50</text><text transform="translate(495.09,156.10) scale(0.93,1)" text-anchor="middle">60</text><text transform="translate(527.60,156.10) scale(0.93,1)" text-anchor="middle">70</text></g>
<text transform="translate(413.80,164.80) scale(0.93,1)" text-anchor="middle" font-size="7.6" fill="#222" stroke="#222" stroke-width="0.08">Depth cm</text>
<text transform="translate(280.70,73.19) rotate(-90) scale(0.93,1)" text-anchor="middle" font-size="7.6" fill="#222" stroke="#222" stroke-width="0.08">PDD (%)</text>
<rect x="463.0" y="0.0" width="64.00" height="34.60" fill="#fff"/>
<line x1="470.2" y1="6.5" x2="477.4" y2="6.5" stroke="#3434b0" stroke-width="1.1"/>
<rect x="472.75" y="17.35" width="1.5" height="1.5" fill="#b030d0"/>
<rect x="472.70" y="28.60" width="1.6" height="1.6" fill="#ff0000" fill-opacity="0.6"/>
<g font-size="6.7" fill="#1a1a1a" stroke="#1a1a1a" stroke-width="0.05"><text transform="translate(477.9,8.50) scale(0.87,1)">6 MeV</text><text transform="translate(477.9,20.40) scale(0.87,1)">6 Mev Penelope</text><text transform="translate(477.9,31.70) scale(0.87,1)">6 MeV Geant4</text></g>
<g stroke="#a4a4a4" stroke-width="1"><line x1="25.50" y1="309.50" x2="253.50" y2="309.50"/><line x1="25.50" y1="295.50" x2="253.50" y2="295.50"/><line x1="25.50" y1="281.50" x2="253.50" y2="281.50"/><line x1="25.50" y1="268.50" x2="253.50" y2="268.50"/><line x1="25.50" y1="254.50" x2="253.50" y2="254.50"/><line x1="25.50" y1="240.50" x2="253.50" y2="240.50"/><line x1="25.50" y1="226.50" x2="253.50" y2="226.50"/><line x1="25.50" y1="212.50" x2="253.50" y2="212.50"/><line x1="25.50" y1="199.50" x2="253.50" y2="199.50"/><line x1="25.50" y1="185.50" x2="253.50" y2="185.50"/></g>
<g stroke="#cfcfcf" stroke-width="1"><line x1="58.50" y1="178.51" x2="58.50" y2="323.30"/><line x1="90.50" y1="178.51" x2="90.50" y2="323.30"/><line x1="123.50" y1="178.51" x2="123.50" y2="323.30"/><line x1="155.50" y1="178.51" x2="155.50" y2="323.30"/><line x1="188.50" y1="178.51" x2="188.50" y2="323.30"/><line x1="220.50" y1="178.51" x2="220.50" y2="323.30"/></g>
<line x1="25.50" y1="178.51" x2="253.50" y2="178.51" stroke="#4a4a4a" stroke-width="1.1"/>
<line x1="253.50" y1="178.51" x2="253.50" y2="323.30" stroke="#808080" stroke-width="1.5"/>
<line x1="25.50" y1="178.51" x2="25.50" y2="323.80" stroke="#2a2a2a" stroke-width="1.0"/>
<line x1="25.00" y1="323.30" x2="253.50" y2="323.30" stroke="#2a2a2a" stroke-width="1.0"/>
<g stroke="#333" stroke-width="0.9"><line x1="23.80" y1="323.30" x2="25.50" y2="323.30"/><line x1="24.40" y1="316.50" x2="25.50" y2="316.50"/><line x1="23.80" y1="309.50" x2="25.50" y2="309.50"/><line x1="24.40" y1="302.50" x2="25.50" y2="302.50"/><line x1="23.80" y1="295.50" x2="25.50" y2="295.50"/><line x1="24.40" y1="288.50" x2="25.50" y2="288.50"/><line x1="23.80" y1="281.50" x2="25.50" y2="281.50"/><line x1="24.40" y1="275.50" x2="25.50" y2="275.50"/><line x1="23.80" y1="268.50" x2="25.50" y2="268.50"/><line x1="24.40" y1="261.50" x2="25.50" y2="261.50"/><line x1="23.80" y1="254.50" x2="25.50" y2="254.50"/><line x1="24.40" y1="247.50" x2="25.50" y2="247.50"/><line x1="23.80" y1="240.50" x2="25.50" y2="240.50"/><line x1="24.40" y1="233.50" x2="25.50" y2="233.50"/><line x1="23.80" y1="226.50" x2="25.50" y2="226.50"/><line x1="24.40" y1="219.50" x2="25.50" y2="219.50"/><line x1="23.80" y1="212.50" x2="25.50" y2="212.50"/><line x1="24.40" y1="206.50" x2="25.50" y2="206.50"/><line x1="23.80" y1="199.50" x2="25.50" y2="199.50"/><line x1="24.40" y1="192.50" x2="25.50" y2="192.50"/><line x1="23.80" y1="185.50" x2="25.50" y2="185.50"/><line x1="24.40" y1="178.50" x2="25.50" y2="178.50"/></g>
<g stroke="#555" stroke-width="0.8"><line x1="25.50" y1="323.30" x2="25.50" y2="324.66"/><line x1="32.50" y1="323.30" x2="32.50" y2="324.18"/><line x1="38.50" y1="323.30" x2="38.50" y2="324.18"/><line x1="45.50" y1="323.30" x2="45.50" y2="324.18"/><line x1="51.50" y1="323.30" x2="51.50" y2="324.18"/><line x1="58.50" y1="323.30" x2="58.50" y2="324.66"/><line x1="64.50" y1="323.30" x2="64.50" y2="324.18"/><line x1="71.50" y1="323.30" x2="71.50" y2="324.18"/><line x1="77.50" y1="323.30" x2="77.50" y2="324.18"/><line x1="84.50" y1="323.30" x2="84.50" y2="324.18"/><line x1="90.50" y1="323.30" x2="90.50" y2="324.66"/><line x1="97.50" y1="323.30" x2="97.50" y2="324.18"/><line x1="103.50" y1="323.30" x2="103.50" y2="324.18"/><line x1="110.50" y1="323.30" x2="110.50" y2="324.18"/><line x1="116.50" y1="323.30" x2="116.50" y2="324.18"/><line x1="123.50" y1="323.30" x2="123.50" y2="324.66"/><line x1="129.50" y1="323.30" x2="129.50" y2="324.18"/><line x1="136.50" y1="323.30" x2="136.50" y2="324.18"/><line x1="142.50" y1="323.30" x2="142.50" y2="324.18"/><line x1="149.50" y1="323.30" x2="149.50" y2="324.18"/><line x1="155.50" y1="323.30" x2="155.50" y2="324.66"/><line x1="162.50" y1="323.30" x2="162.50" y2="324.18"/><line x1="168.50" y1="323.30" x2="168.50" y2="324.18"/><line x1="175.50" y1="323.30" x2="175.50" y2="324.18"/><line x1="181.50" y1="323.30" x2="181.50" y2="324.18"/><line x1="188.50" y1="323.30" x2="188.50" y2="324.66"/><line x1="194.50" y1="323.30" x2="194.50" y2="324.18"/><line x1="201.50" y1="323.30" x2="201.50" y2="324.18"/><line x1="207.50" y1="323.30" x2="207.50" y2="324.18"/><line x1="214.50" y1="323.30" x2="214.50" y2="324.18"/><line x1="220.50" y1="323.30" x2="220.50" y2="324.66"/><line x1="227.50" y1="323.30" x2="227.50" y2="324.18"/><line x1="233.50" y1="323.30" x2="233.50" y2="324.18"/><line x1="240.50" y1="323.30" x2="240.50" y2="324.18"/><line x1="246.50" y1="323.30" x2="246.50" y2="324.18"/><line x1="253.50" y1="323.30" x2="253.50" y2="324.66"/></g>
<polyline points="25.40,203.70 27.50,201.10 29.80,199.10 32.70,197.10 36.70,195.10 41.40,193.60 46.00,191.90 50.60,190.50 56.40,189.60 62.20,188.60 68.00,187.60 75.80,186.50 81.60,185.50 87.40,185.50 93.10,185.90 98.90,187.30 104.70,189.00 110.50,191.70 116.30,195.10 120.00,197.80 123.70,200.80 128.00,205.90 132.30,211.70 136.70,218.20 141.00,224.70 145.30,231.90 147.20,235.00 150.80,241.50 154.40,248.00 158.00,255.20 161.60,262.50 165.20,267.50 168.10,273.30 171.20,279.50 175.80,288.00 180.80,296.60 185.90,303.10 191.70,309.60 198.90,315.40 206.10,319.00 213.40,321.20 222.00,322.20 230.00,322.60 253.50,323.30" fill="none" stroke="#9a38b8" stroke-width="1.2" stroke-linejoin="round"/>
<g fill="#ff0000" fill-opacity="0.5"><rect x="24.70" y="192.22" width="1.6" height="1.6"/><rect x="26.33" y="192.59" width="1.6" height="1.6"/><rect x="27.96" y="192.96" width="1.6" height="1.6"/><rect x="29.59" y="192.95" width="1.6" height="1.6"/><rect x="31.21" y="192.25" width="1.6" height="1.6"/><rect x="32.84" y="191.57" width="1.6" height="1.6"/><rect x="34.47" y="190.93" width="1.6" height="1.6"/><rect x="36.10" y="190.29" width="1.6" height="1.6"/><rect x="37.73" y="189.75" width="1.6" height="1.6"/><rect x="39.36" y="189.36" width="1.6" height="1.6"/><rect x="40.99" y="188.97" width="1.6" height="1.6"/><rect x="42.61" y="189.17" width="1.6" height="1.6"/><rect x="44.24" y="189.82" width="1.6" height="1.6"/><rect x="45.87" y="190.20" width="1.6" height="1.6"/><rect x="47.50" y="190.20" width="1.6" height="1.6"/><rect x="49.13" y="190.07" width="1.6" height="1.6"/><rect x="50.76" y="189.57" width="1.6" height="1.6"/><rect x="52.39" y="189.08" width="1.6" height="1.6"/><rect x="54.01" y="188.71" width="1.6" height="1.6"/><rect x="55.64" y="188.49" width="1.6" height="1.6"/><rect x="57.27" y="188.28" width="1.6" height="1.6"/><rect x="58.90" y="188.03" width="1.6" height="1.6"/><rect x="60.53" y="187.75" width="1.6" height="1.6"/><rect x="62.16" y="187.48" width="1.6" height="1.6"/><rect x="63.79" y="187.25" width="1.6" height="1.6"/><rect x="65.41" y="187.05" width="1.6" height="1.6"/><rect x="67.04" y="186.85" width="1.6" height="1.6"/><rect x="68.67" y="186.66" width="1.6" height="1.6"/><rect x="70.30" y="186.46" width="1.6" height="1.6"/><rect x="71.93" y="186.27" width="1.6" height="1.6"/><rect x="73.56" y="186.07" width="1.6" height="1.6"/><rect x="75.19" y="185.87" width="1.6" height="1.6"/><rect x="76.81" y="185.65" width="1.6" height="1.6"/><rect x="78.44" y="185.43" width="1.6" height="1.6"/><rect x="80.07" y="185.20" width="1.6" height="1.6"/><rect x="81.70" y="185.04" width="1.6" height="1.6"/><rect x="83.33" y="184.93" width="1.6" height="1.6"/><rect x="84.96" y="184.81" width="1.6" height="1.6"/><rect x="86.59" y="184.70" width="1.6" height="1.6"/><rect x="88.21" y="184.53" width="1.6" height="1.6"/><rect x="89.84" y="184.36" width="1.6" height="1.6"/><rect x="91.47" y="184.19" width="1.6" height="1.6"/><rect x="93.10" y="184.20" width="1.6" height="1.6"/><rect x="94.73" y="184.41" width="1.6" height="1.6"/><rect x="96.36" y="184.62" width="1.6" height="1.6"/><rect x="97.99" y="185.01" width="1.6" height="1.6"/><rect x="99.61" y="185.51" width="1.6" height="1.6"/><rect x="101.24" y="186.02" width="1.6" height="1.6"/><rect x="102.87" y="186.52" width="1.6" height="1.6"/><rect x="104.50" y="187.00" width="1.6" height="1.6"/><rect x="106.13" y="187.48" width="1.6" height="1.6"/><rect x="107.76" y="187.95" width="1.6" height="1.6"/><rect x="109.39" y="188.54" width="1.6" height="1.6"/><rect x="111.01" y="189.23" width="1.6" height="1.6"/><rect x="112.64" y="189.93" width="1.6" height="1.6"/><rect x="114.27" y="190.65" width="1.6" height="1.6"/><rect x="115.90" y="191.89" width="1.6" height="1.6"/><rect x="117.53" y="193.13" width="1.6" height="1.6"/><rect x="119.16" y="194.36" width="1.6" height="1.6"/><rect x="120.79" y="195.88" width="1.6" height="1.6"/><rect x="122.41" y="197.71" width="1.6" height="1.6"/><rect x="124.04" y="199.53" width="1.6" height="1.6"/><rect x="125.67" y="201.36" width="1.6" height="1.6"/><rect x="127.30" y="203.66" width="1.6" height="1.6"/><rect x="128.93" y="206.00" width="1.6" height="1.6"/><rect x="130.56" y="208.34" width="1.6" height="1.6"/><rect x="132.19" y="210.74" width="1.6" height="1.6"/><rect x="133.81" y="213.22" width="1.6" height="1.6"/><rect x="135.44" y="215.70" width="1.6" height="1.6"/><rect x="137.07" y="218.23" width="1.6" height="1.6"/><rect x="138.70" y="220.76" width="1.6" height="1.6"/><rect x="140.33" y="223.32" width="1.6" height="1.6"/><rect x="141.96" y="226.08" width="1.6" height="1.6"/><rect x="143.59" y="228.85" width="1.6" height="1.6"/><rect x="145.21" y="231.67" width="1.6" height="1.6"/><rect x="146.84" y="234.57" width="1.6" height="1.6"/><rect x="148.47" y="237.48" width="1.6" height="1.6"/><rect x="150.10" y="240.38" width="1.6" height="1.6"/><rect x="151.73" y="243.32" width="1.6" height="1.6"/><rect x="153.36" y="246.26" width="1.6" height="1.6"/><rect x="154.99" y="249.47" width="1.6" height="1.6"/><rect x="156.61" y="252.73" width="1.6" height="1.6"/><rect x="158.24" y="256.01" width="1.6" height="1.6"/><rect x="159.87" y="259.32" width="1.6" height="1.6"/><rect x="161.50" y="262.21" width="1.6" height="1.6"/><rect x="163.13" y="264.56" width="1.6" height="1.6"/><rect x="164.76" y="267.11" width="1.6" height="1.6"/><rect x="166.39" y="270.37" width="1.6" height="1.6"/><rect x="168.01" y="273.58" width="1.6" height="1.6"/><rect x="169.64" y="276.73" width="1.6" height="1.6"/><rect x="171.27" y="279.75" width="1.6" height="1.6"/><rect x="172.90" y="282.66" width="1.6" height="1.6"/><rect x="174.53" y="285.56" width="1.6" height="1.6"/><rect x="176.16" y="288.02" width="1.6" height="1.6"/><rect x="177.79" y="290.31" width="1.6" height="1.6"/><rect x="179.41" y="292.59" width="1.6" height="1.6"/><rect x="181.04" y="294.88" width="1.6" height="1.6"/><rect x="182.67" y="297.02" width="1.6" height="1.6"/><rect x="184.30" y="298.83" width="1.6" height="1.6"/><rect x="185.93" y="300.64" width="1.6" height="1.6"/><rect x="187.56" y="302.45" width="1.6" height="1.6"/><rect x="189.19" y="304.26" width="1.6" height="1.6"/><rect x="190.81" y="305.72" width="1.6" height="1.6"/><rect x="192.44" y="307.12" width="1.6" height="1.6"/><rect x="194.07" y="308.53" width="1.6" height="1.6"/><rect x="195.70" y="309.93" width="1.6" height="1.6"/><rect x="197.33" y="311.33" width="1.6" height="1.6"/><rect x="198.96" y="312.47" width="1.6" height="1.6"/><rect x="200.59" y="313.37" width="1.6" height="1.6"/><rect x="202.21" y="314.27" width="1.6" height="1.6"/><rect x="203.84" y="315.17" width="1.6" height="1.6"/><rect x="205.47" y="316.07" width="1.6" height="1.6"/><rect x="207.10" y="316.90" width="1.6" height="1.6"/><rect x="208.73" y="317.45" width="1.6" height="1.6"/><rect x="210.36" y="318.00" width="1.6" height="1.6"/><rect x="211.99" y="318.55" width="1.6" height="1.6"/><rect x="213.61" y="319.10" width="1.6" height="1.6"/><rect x="215.24" y="319.65" width="1.6" height="1.6"/><rect x="216.87" y="319.94" width="1.6" height="1.6"/><rect x="218.50" y="320.20" width="1.6" height="1.6"/><rect x="220.13" y="320.46" width="1.6" height="1.6"/><rect x="221.76" y="320.72" width="1.6" height="1.6"/><rect x="223.39" y="320.99" width="1.6" height="1.6"/><rect x="225.01" y="321.18" width="1.6" height="1.6"/><rect x="226.64" y="321.33" width="1.6" height="1.6"/><rect x="228.27" y="321.47" width="1.6" height="1.6"/><rect x="229.90" y="321.62" width="1.6" height="1.6"/><rect x="231.53" y="321.76" width="1.6" height="1.6"/><rect x="233.16" y="321.91" width="1.6" height="1.6"/><rect x="234.79" y="322.02" width="1.6" height="1.6"/><rect x="236.41" y="322.06" width="1.6" height="1.6"/><rect x="238.04" y="322.10" width="1.6" height="1.6"/><rect x="239.67" y="322.15" width="1.6" height="1.6"/><rect x="241.30" y="322.19" width="1.6" height="1.6"/><rect x="242.93" y="322.24" width="1.6" height="1.6"/><rect x="244.56" y="322.28" width="1.6" height="1.6"/><rect x="246.19" y="322.32" width="1.6" height="1.6"/><rect x="247.81" y="322.37" width="1.6" height="1.6"/><rect x="249.44" y="322.41" width="1.6" height="1.6"/><rect x="251.07" y="322.46" width="1.6" height="1.6"/><rect x="252.70" y="322.50" width="1.6" height="1.6"/></g>
<g fill="#2a3a80"><rect x="24.75" y="203.25" width="1.5" height="1.5"/><rect x="31.26" y="198.45" width="1.5" height="1.5"/><rect x="37.78" y="196.35" width="1.5" height="1.5"/><rect x="44.29" y="194.85" width="1.5" height="1.5"/><rect x="50.81" y="192.05" width="1.5" height="1.5"/><rect x="57.32" y="193.15" width="1.5" height="1.5"/><rect x="63.84" y="191.15" width="1.5" height="1.5"/><rect x="70.35" y="189.45" width="1.5" height="1.5"/><rect x="76.86" y="185.55" width="1.5" height="1.5"/><rect x="83.38" y="184.45" width="1.5" height="1.5"/><rect x="89.89" y="186.25" width="1.5" height="1.5"/><rect x="96.41" y="185.95" width="1.5" height="1.5"/><rect x="102.92" y="185.15" width="1.5" height="1.5"/><rect x="109.44" y="188.45" width="1.5" height="1.5"/><rect x="115.95" y="193.45" width="1.5" height="1.5"/><rect x="122.46" y="199.66" width="1.5" height="1.5"/><rect x="128.98" y="207.48" width="1.5" height="1.5"/><rect x="135.49" y="216.77" width="1.5" height="1.5"/><rect x="142.01" y="226.89" width="1.5" height="1.5"/><rect x="148.52" y="237.99" width="1.5" height="1.5"/><rect x="155.04" y="250.02" width="1.5" height="1.5"/><rect x="161.55" y="262.72" width="1.5" height="1.5"/><rect x="168.06" y="276.45" width="1.5" height="1.5"/><rect x="174.58" y="287.55" width="1.5" height="1.5"/><rect x="181.09" y="296.65" width="1.5" height="1.5"/><rect x="187.61" y="304.55" width="1.5" height="1.5"/><rect x="194.12" y="310.55" width="1.5" height="1.5"/><rect x="200.64" y="314.25" width="1.5" height="1.5"/><rect x="207.15" y="317.45" width="1.5" height="1.5"/><rect x="213.66" y="319.85" width="1.5" height="1.5"/><rect x="220.18" y="321.05" width="1.5" height="1.5"/><rect x="226.69" y="321.75" width="1.5" height="1.5"/><rect x="233.21" y="321.97" width="1.5" height="1.5"/><rect x="239.72" y="322.16" width="1.5" height="1.5"/><rect x="246.24" y="322.36" width="1.5" height="1.5"/><rect x="252.75" y="322.55" width="1.5" height="1.5"/></g>
<g font-size="7.1" fill="#222" stroke="#222" stroke-width="0.08"><text transform="translate(19.70,325.80) scale(0.93,1)" text-anchor="end">0</text><text transform="translate(19.70,312.01) scale(0.93,1)" text-anchor="end">10</text><text transform="translate(19.70,298.22) scale(0.93,1)" text-anchor="end">20</text><text transform="translate(19.70,284.43) scale(0.93,1)" text-anchor="end">30</text><text transform="translate(19.70,270.64) scale(0.93,1)" text-anchor="end">40</text><text transform="translate(19.70,256.85) scale(0.93,1)" text-anchor="end">50</text><text transform="translate(19.70,243.06) scale(0.93,1)" text-anchor="end">60</text><text transform="translate(19.70,229.27) scale(0.93,1)" text-anchor="end">70</text><text transform="translate(19.70,215.48) scale(0.93,1)" text-anchor="end">80</text><text transform="translate(19.70,201.69) scale(0.93,1)" text-anchor="end">90</text><text transform="translate(19.70,187.90) scale(0.93,1)" text-anchor="end">100</text><text transform="translate(25.50,333.60) scale(0.93,1)" text-anchor="middle">0</text><text transform="translate(58.07,333.60) scale(0.93,1)" text-anchor="middle">10</text><text transform="translate(90.64,333.60) scale(0.93,1)" text-anchor="middle">20</text><text transform="translate(123.21,333.60) scale(0.93,1)" text-anchor="middle">30</text><text transform="translate(155.79,333.60) scale(0.93,1)" text-anchor="middle">40</text><text transform="translate(188.36,333.60) scale(0.93,1)" text-anchor="middle">50</text><text transform="translate(220.93,333.60) scale(0.93,1)" text-anchor="middle">60</text><text transform="translate(253.50,333.60) scale(0.93,1)" text-anchor="middle">70</text></g>
<text transform="translate(139.50,342.30) scale(0.93,1)" text-anchor="middle" font-size="7.6" fill="#222" stroke="#222" stroke-width="0.08">Depth cm</text>
<text transform="translate(6.20,250.90) rotate(-90) scale(0.93,1)" text-anchor="middle" font-size="7.6" fill="#222" stroke="#222" stroke-width="0.08">PDD (%)</text>
<rect x="188.8" y="178.45" width="64.00" height="35.85" fill="#fff"/>
<line x1="195.1" y1="184.0" x2="202.5" y2="184.0" stroke="#c878cc" stroke-width="1.6"/>
<rect x="198.25" y="194.95" width="1.5" height="1.5" fill="#2a3a80"/>
<rect x="198.20" y="206.30" width="1.6" height="1.6" fill="#ff0000" fill-opacity="0.6"/>
<g font-size="6.7" fill="#1a1a1a" stroke="#1a1a1a" stroke-width="0.05"><text transform="translate(202.9,186.30) scale(0.87,1)">9 MeV</text><text transform="translate(202.9,198.00) scale(0.87,1)">9 Mev Penelope</text><text transform="translate(202.9,209.40) scale(0.87,1)">9 MeV Geant4</text></g>
<g stroke="#a4a4a4" stroke-width="1"><line x1="299.00" y1="310.50" x2="528.00" y2="310.50"/><line x1="299.00" y1="296.50" x2="528.00" y2="296.50"/><line x1="299.00" y1="282.50" x2="528.00" y2="282.50"/><line x1="299.00" y1="268.50" x2="528.00" y2="268.50"/><line x1="299.00" y1="254.50" x2="528.00" y2="254.50"/><line x1="299.00" y1="240.50" x2="528.00" y2="240.50"/><line x1="299.00" y1="226.50" x2="528.00" y2="226.50"/><line x1="299.00" y1="213.50" x2="528.00" y2="213.50"/><line x1="299.00" y1="199.50" x2="528.00" y2="199.50"/><line x1="299.00" y1="185.50" x2="528.00" y2="185.50"/></g>
<g stroke="#cfcfcf" stroke-width="1"><line x1="331.50" y1="178.25" x2="331.50" y2="324.30"/><line x1="364.50" y1="178.25" x2="364.50" y2="324.30"/><line x1="397.50" y1="178.25" x2="397.50" y2="324.30"/><line x1="429.50" y1="178.25" x2="429.50" y2="324.30"/><line x1="462.50" y1="178.25" x2="462.50" y2="324.30"/><line x1="495.50" y1="178.25" x2="495.50" y2="324.30"/></g>
<line x1="299.00" y1="178.25" x2="528.00" y2="178.25" stroke="#4a4a4a" stroke-width="1.1"/>
<line x1="528.00" y1="178.25" x2="528.00" y2="324.30" stroke="#808080" stroke-width="1.5"/>
<line x1="299.00" y1="178.25" x2="299.00" y2="324.80" stroke="#2a2a2a" stroke-width="1.0"/>
<line x1="298.50" y1="324.30" x2="528.00" y2="324.30" stroke="#2a2a2a" stroke-width="1.0"/>
<g stroke="#333" stroke-width="0.9"><line x1="297.30" y1="324.30" x2="299.00" y2="324.30"/><line x1="297.90" y1="317.50" x2="299.00" y2="317.50"/><line x1="297.30" y1="310.50" x2="299.00" y2="310.50"/><line x1="297.90" y1="303.50" x2="299.00" y2="303.50"/><line x1="297.30" y1="296.50" x2="299.00" y2="296.50"/><line x1="297.90" y1="289.50" x2="299.00" y2="289.50"/><line x1="297.30" y1="282.50" x2="299.00" y2="282.50"/><line x1="297.90" y1="275.50" x2="299.00" y2="275.50"/><line x1="297.30" y1="268.50" x2="299.00" y2="268.50"/><line x1="297.90" y1="261.50" x2="299.00" y2="261.50"/><line x1="297.30" y1="254.50" x2="299.00" y2="254.50"/><line x1="297.90" y1="247.50" x2="299.00" y2="247.50"/><line x1="297.30" y1="240.50" x2="299.00" y2="240.50"/><line x1="297.90" y1="233.50" x2="299.00" y2="233.50"/><line x1="297.30" y1="226.50" x2="299.00" y2="226.50"/><line x1="297.90" y1="219.50" x2="299.00" y2="219.50"/><line x1="297.30" y1="213.50" x2="299.00" y2="213.50"/><line x1="297.90" y1="206.50" x2="299.00" y2="206.50"/><line x1="297.30" y1="199.50" x2="299.00" y2="199.50"/><line x1="297.90" y1="192.50" x2="299.00" y2="192.50"/><line x1="297.30" y1="185.50" x2="299.00" y2="185.50"/><line x1="297.90" y1="178.50" x2="299.00" y2="178.50"/></g>
<g stroke="#555" stroke-width="0.8"><line x1="299.00" y1="324.30" x2="299.00" y2="325.66"/><line x1="305.50" y1="324.30" x2="305.50" y2="325.18"/><line x1="312.50" y1="324.30" x2="312.50" y2="325.18"/><line x1="318.50" y1="324.30" x2="318.50" y2="325.18"/><line x1="325.50" y1="324.30" x2="325.50" y2="325.18"/><line x1="331.50" y1="324.30" x2="331.50" y2="325.66"/><line x1="338.50" y1="324.30" x2="338.50" y2="325.18"/><line x1="344.50" y1="324.30" x2="344.50" y2="325.18"/><line x1="351.50" y1="324.30" x2="351.50" y2="325.18"/><line x1="357.50" y1="324.30" x2="357.50" y2="325.18"/><line x1="364.50" y1="324.30" x2="364.50" y2="325.66"/><line x1="370.50" y1="324.30" x2="370.50" y2="325.18"/><line x1="377.50" y1="324.30" x2="377.50" y2="325.18"/><line x1="384.50" y1="324.30" x2="384.50" y2="325.18"/><line x1="390.50" y1="324.30" x2="390.50" y2="325.18"/><line x1="397.50" y1="324.30" x2="397.50" y2="325.66"/><line x1="403.50" y1="324.30" x2="403.50" y2="325.18"/><line x1="410.50" y1="324.30" x2="410.50" y2="325.18"/><line x1="416.50" y1="324.30" x2="416.50" y2="325.18"/><line x1="423.50" y1="324.30" x2="423.50" y2="325.18"/><line x1="429.50" y1="324.30" x2="429.50" y2="325.66"/><line x1="436.50" y1="324.30" x2="436.50" y2="325.18"/><line x1="442.50" y1="324.30" x2="442.50" y2="325.18"/><line x1="449.50" y1="324.30" x2="449.50" y2="325.18"/><line x1="456.50" y1="324.30" x2="456.50" y2="325.18"/><line x1="462.50" y1="324.30" x2="462.50" y2="325.66"/><line x1="469.50" y1="324.30" x2="469.50" y2="325.18"/><line x1="475.50" y1="324.30" x2="475.50" y2="325.18"/><line x1="482.50" y1="324.30" x2="482.50" y2="325.18"/><line x1="488.50" y1="324.30" x2="488.50" y2="325.18"/><line x1="495.50" y1="324.30" x2="495.50" y2="325.66"/><line x1="501.50" y1="324.30" x2="501.50" y2="325.18"/><line x1="508.50" y1="324.30" x2="508.50" y2="325.18"/><line x1="514.50" y1="324.30" x2="514.50" y2="325.18"/><line x1="521.50" y1="324.30" x2="521.50" y2="325.18"/><line x1="528.50" y1="324.30" x2="528.50" y2="325.66"/></g>
<polyline points="299.20,199.40 301.50,198.80 304.90,196.50 308.40,194.20 313.00,191.90 317.70,190.50 322.30,189.30 326.90,188.60 331.60,188.20 337.40,187.50 343.10,186.70 350.80,185.50 356.60,185.30 362.30,185.30 368.10,185.90 373.90,186.70 379.70,186.70 385.50,187.80 391.20,189.00 397.00,190.90 401.60,193.00 405.80,195.10 411.60,198.70 417.30,203.00 423.10,208.80 428.90,215.30 434.70,222.50 440.50,230.50 445.80,238.70 451.60,247.30 457.30,256.00 463.10,265.40 469.50,276.00 475.40,286.50 480.60,294.30 485.80,301.20 491.00,306.40 496.20,310.70 501.40,314.70 506.60,318.20 513.50,320.80 520.50,322.00 528.00,322.50" fill="none" stroke="#38a4a4" stroke-width="1.2" stroke-linejoin="round"/>
<g fill="#ff0000" fill-opacity="0.5"><rect x="298.20" y="192.20" width="1.6" height="1.6"/><rect x="299.84" y="192.62" width="1.6" height="1.6"/><rect x="301.47" y="193.10" width="1.6" height="1.6"/><rect x="303.11" y="192.98" width="1.6" height="1.6"/><rect x="304.74" y="192.70" width="1.6" height="1.6"/><rect x="306.38" y="192.32" width="1.6" height="1.6"/><rect x="308.01" y="191.90" width="1.6" height="1.6"/><rect x="309.65" y="191.58" width="1.6" height="1.6"/><rect x="311.29" y="191.36" width="1.6" height="1.6"/><rect x="312.92" y="191.13" width="1.6" height="1.6"/><rect x="314.56" y="190.91" width="1.6" height="1.6"/><rect x="316.19" y="190.56" width="1.6" height="1.6"/><rect x="317.83" y="190.22" width="1.6" height="1.6"/><rect x="319.46" y="189.88" width="1.6" height="1.6"/><rect x="321.10" y="189.65" width="1.6" height="1.6"/><rect x="322.74" y="189.54" width="1.6" height="1.6"/><rect x="324.37" y="189.44" width="1.6" height="1.6"/><rect x="326.01" y="189.49" width="1.6" height="1.6"/><rect x="327.64" y="189.63" width="1.6" height="1.6"/><rect x="329.28" y="189.77" width="1.6" height="1.6"/><rect x="330.91" y="189.88" width="1.6" height="1.6"/><rect x="332.55" y="189.60" width="1.6" height="1.6"/><rect x="334.19" y="189.31" width="1.6" height="1.6"/><rect x="335.82" y="188.98" width="1.6" height="1.6"/><rect x="337.46" y="188.52" width="1.6" height="1.6"/><rect x="339.09" y="188.06" width="1.6" height="1.6"/><rect x="340.73" y="187.87" width="1.6" height="1.6"/><rect x="342.36" y="188.03" width="1.6" height="1.6"/><rect x="344.00" y="188.18" width="1.6" height="1.6"/><rect x="345.64" y="187.75" width="1.6" height="1.6"/><rect x="347.27" y="187.25" width="1.6" height="1.6"/><rect x="348.91" y="186.74" width="1.6" height="1.6"/><rect x="350.54" y="186.35" width="1.6" height="1.6"/><rect x="352.18" y="186.21" width="1.6" height="1.6"/><rect x="353.81" y="186.07" width="1.6" height="1.6"/><rect x="355.45" y="185.93" width="1.6" height="1.6"/><rect x="357.09" y="185.76" width="1.6" height="1.6"/><rect x="358.72" y="185.59" width="1.6" height="1.6"/><rect x="360.36" y="185.42" width="1.6" height="1.6"/><rect x="361.99" y="185.12" width="1.6" height="1.6"/><rect x="363.63" y="184.50" width="1.6" height="1.6"/><rect x="365.26" y="185.00" width="1.6" height="1.6"/><rect x="366.90" y="185.72" width="1.6" height="1.6"/><rect x="368.54" y="186.11" width="1.6" height="1.6"/><rect x="370.17" y="186.40" width="1.6" height="1.6"/><rect x="371.81" y="186.68" width="1.6" height="1.6"/><rect x="373.44" y="186.93" width="1.6" height="1.6"/><rect x="375.08" y="187.17" width="1.6" height="1.6"/><rect x="376.71" y="187.35" width="1.6" height="1.6"/><rect x="378.35" y="186.68" width="1.6" height="1.6"/><rect x="379.99" y="186.00" width="1.6" height="1.6"/><rect x="381.62" y="185.67" width="1.6" height="1.6"/><rect x="383.26" y="186.35" width="1.6" height="1.6"/><rect x="384.89" y="187.03" width="1.6" height="1.6"/><rect x="386.53" y="187.62" width="1.6" height="1.6"/><rect x="388.16" y="188.12" width="1.6" height="1.6"/><rect x="389.80" y="188.62" width="1.6" height="1.6"/><rect x="391.44" y="188.91" width="1.6" height="1.6"/><rect x="393.07" y="189.08" width="1.6" height="1.6"/><rect x="394.71" y="189.25" width="1.6" height="1.6"/><rect x="396.34" y="189.46" width="1.6" height="1.6"/><rect x="397.98" y="190.10" width="1.6" height="1.6"/><rect x="399.61" y="190.74" width="1.6" height="1.6"/><rect x="401.25" y="191.47" width="1.6" height="1.6"/><rect x="402.89" y="192.47" width="1.6" height="1.6"/><rect x="404.52" y="193.46" width="1.6" height="1.6"/><rect x="406.16" y="194.46" width="1.6" height="1.6"/><rect x="407.79" y="195.47" width="1.6" height="1.6"/><rect x="409.43" y="196.49" width="1.6" height="1.6"/><rect x="411.06" y="197.51" width="1.6" height="1.6"/><rect x="412.70" y="198.65" width="1.6" height="1.6"/><rect x="414.34" y="199.89" width="1.6" height="1.6"/><rect x="415.97" y="201.12" width="1.6" height="1.6"/><rect x="417.61" y="202.41" width="1.6" height="1.6"/><rect x="419.24" y="204.04" width="1.6" height="1.6"/><rect x="420.88" y="205.68" width="1.6" height="1.6"/><rect x="422.51" y="207.31" width="1.6" height="1.6"/><rect x="424.15" y="209.06" width="1.6" height="1.6"/><rect x="425.79" y="210.90" width="1.6" height="1.6"/><rect x="427.42" y="212.73" width="1.6" height="1.6"/><rect x="429.06" y="214.57" width="1.6" height="1.6"/><rect x="430.69" y="216.60" width="1.6" height="1.6"/><rect x="432.33" y="218.63" width="1.6" height="1.6"/><rect x="433.96" y="220.66" width="1.6" height="1.6"/><rect x="435.60" y="222.91" width="1.6" height="1.6"/><rect x="437.24" y="225.38" width="1.6" height="1.6"/><rect x="438.87" y="227.85" width="1.6" height="1.6"/><rect x="440.51" y="230.61" width="1.6" height="1.6"/><rect x="442.14" y="234.28" width="1.6" height="1.6"/><rect x="443.78" y="237.93" width="1.6" height="1.6"/><rect x="445.41" y="240.47" width="1.6" height="1.6"/><rect x="447.05" y="243.01" width="1.6" height="1.6"/><rect x="448.69" y="245.55" width="1.6" height="1.6"/><rect x="450.32" y="248.06" width="1.6" height="1.6"/><rect x="451.96" y="250.56" width="1.6" height="1.6"/><rect x="453.59" y="253.05" width="1.6" height="1.6"/><rect x="455.23" y="255.57" width="1.6" height="1.6"/><rect x="456.86" y="258.22" width="1.6" height="1.6"/><rect x="458.50" y="260.87" width="1.6" height="1.6"/><rect x="460.14" y="263.52" width="1.6" height="1.6"/><rect x="461.77" y="266.21" width="1.6" height="1.6"/><rect x="463.41" y="268.92" width="1.6" height="1.6"/><rect x="465.04" y="271.63" width="1.6" height="1.6"/><rect x="466.68" y="274.34" width="1.6" height="1.6"/><rect x="468.31" y="277.18" width="1.6" height="1.6"/><rect x="469.95" y="280.09" width="1.6" height="1.6"/><rect x="471.59" y="283.01" width="1.6" height="1.6"/><rect x="473.22" y="285.88" width="1.6" height="1.6"/><rect x="474.86" y="288.34" width="1.6" height="1.6"/><rect x="476.49" y="290.79" width="1.6" height="1.6"/><rect x="478.13" y="293.24" width="1.6" height="1.6"/><rect x="479.76" y="295.19" width="1.6" height="1.6"/><rect x="481.40" y="297.08" width="1.6" height="1.6"/><rect x="483.04" y="298.96" width="1.6" height="1.6"/><rect x="484.67" y="300.74" width="1.6" height="1.6"/><rect x="486.31" y="302.18" width="1.6" height="1.6"/><rect x="487.94" y="303.62" width="1.6" height="1.6"/><rect x="489.58" y="305.05" width="1.6" height="1.6"/><rect x="491.21" y="306.44" width="1.6" height="1.6"/><rect x="492.85" y="307.79" width="1.6" height="1.6"/><rect x="494.49" y="309.14" width="1.6" height="1.6"/><rect x="496.12" y="310.38" width="1.6" height="1.6"/><rect x="497.76" y="311.48" width="1.6" height="1.6"/><rect x="499.39" y="312.58" width="1.6" height="1.6"/><rect x="501.03" y="313.62" width="1.6" height="1.6"/><rect x="502.66" y="314.51" width="1.6" height="1.6"/><rect x="504.30" y="315.39" width="1.6" height="1.6"/><rect x="505.94" y="316.25" width="1.6" height="1.6"/><rect x="507.57" y="316.87" width="1.6" height="1.6"/><rect x="509.21" y="317.48" width="1.6" height="1.6"/><rect x="510.84" y="318.10" width="1.6" height="1.6"/><rect x="512.48" y="318.72" width="1.6" height="1.6"/><rect x="514.11" y="319.04" width="1.6" height="1.6"/><rect x="515.75" y="319.32" width="1.6" height="1.6"/><rect x="517.39" y="319.60" width="1.6" height="1.6"/><rect x="519.02" y="319.88" width="1.6" height="1.6"/><rect x="520.66" y="320.06" width="1.6" height="1.6"/><rect x="522.29" y="320.17" width="1.6" height="1.6"/><rect x="523.93" y="320.28" width="1.6" height="1.6"/><rect x="525.56" y="320.39" width="1.6" height="1.6"/><rect x="527.20" y="320.50" width="1.6" height="1.6"/></g>
<g fill="#5a3a30"><rect x="304.79" y="193.15" width="1.5" height="1.5"/><rect x="311.34" y="192.05" width="1.5" height="1.5"/><rect x="317.88" y="190.55" width="1.5" height="1.5"/><rect x="324.42" y="189.45" width="1.5" height="1.5"/><rect x="330.96" y="188.25" width="1.5" height="1.5"/><rect x="337.51" y="187.65" width="1.5" height="1.5"/><rect x="344.05" y="186.75" width="1.5" height="1.5"/><rect x="416.02" y="203.15" width="1.5" height="1.5"/><rect x="422.56" y="209.05" width="1.5" height="1.5"/><rect x="487.99" y="302.15" width="1.5" height="1.5"/><rect x="494.54" y="307.35" width="1.5" height="1.5"/><rect x="501.08" y="312.25" width="1.5" height="1.5"/><rect x="507.62" y="316.35" width="1.5" height="1.5"/><rect x="514.16" y="318.65" width="1.5" height="1.5"/><rect x="520.71" y="320.35" width="1.5" height="1.5"/></g>
<g font-size="7.1" fill="#222" stroke="#222" stroke-width="0.08"><text transform="translate(293.20,326.80) scale(0.93,1)" text-anchor="end">0</text><text transform="translate(293.20,312.89) scale(0.93,1)" text-anchor="end">10</text><text transform="translate(293.20,298.98) scale(0.93,1)" text-anchor="end">20</text><text transform="translate(293.20,285.07) scale(0.93,1)" text-anchor="end">30</text><text transform="translate(293.20,271.16) scale(0.93,1)" text-anchor="end">40</text><text transform="translate(293.20,257.25) scale(0.93,1)" text-anchor="end">50</text><text transform="translate(293.20,243.34) scale(0.93,1)" text-anchor="end">60</text><text transform="translate(293.20,229.43) scale(0.93,1)" text-anchor="end">70</text><text transform="translate(293.20,215.52) scale(0.93,1)" text-anchor="end">80</text><text transform="translate(293.20,201.61) scale(0.93,1)" text-anchor="end">90</text><text transform="translate(293.20,187.70) scale(0.93,1)" text-anchor="end">100</text><text transform="translate(299.00,334.60) scale(0.93,1)" text-anchor="middle">0</text><text transform="translate(331.71,334.60) scale(0.93,1)" text-anchor="middle">10</text><text transform="translate(364.43,334.60) scale(0.93,1)" text-anchor="middle">20</text><text transform="translate(397.14,334.60) scale(0.93,1)" text-anchor="middle">30</text><text transform="translate(429.86,334.60) scale(0.93,1)" text-anchor="middle">40</text><text transform="translate(462.57,334.60) scale(0.93,1)" text-anchor="middle">50</text><text transform="translate(495.29,334.60) scale(0.93,1)" text-anchor="middle">60</text><text transform="translate(528.00,334.60) scale(0.93,1)" text-anchor="middle">70</text></g>
<text transform="translate(413.50,343.30) scale(0.93,1)" text-anchor="middle" font-size="7.6" fill="#222" stroke="#222" stroke-width="0.08">Depth cm</text>
<text transform="translate(280.30,251.27) rotate(-90) scale(0.93,1)" text-anchor="middle" font-size="7.6" fill="#222" stroke="#222" stroke-width="0.08">PDD (%)</text>
<rect x="463.2" y="178.45" width="64.10" height="34.05" fill="#fff"/>
<line x1="468.0" y1="184.5" x2="475.3" y2="184.5" stroke="#3a9e9e" stroke-width="1.1"/>
<rect x="470.85" y="195.35" width="1.5" height="1.5" fill="#5a3a30"/>
<rect x="470.80" y="206.10" width="1.6" height="1.6" fill="#ff0000" fill-opacity="0.6"/>
<g font-size="6.7" fill="#1a1a1a" stroke="#1a1a1a" stroke-width="0.05"><text transform="translate(476.4,186.40) scale(0.87,1)">12 MeV</text><text transform="translate(476.4,198.40) scale(0.87,1)">12 MeV Penelope</text><text transform="translate(476.4,209.20) scale(0.87,1)">12 MeV Geant4</text></g>
</g>
</svg>
</body></html>
